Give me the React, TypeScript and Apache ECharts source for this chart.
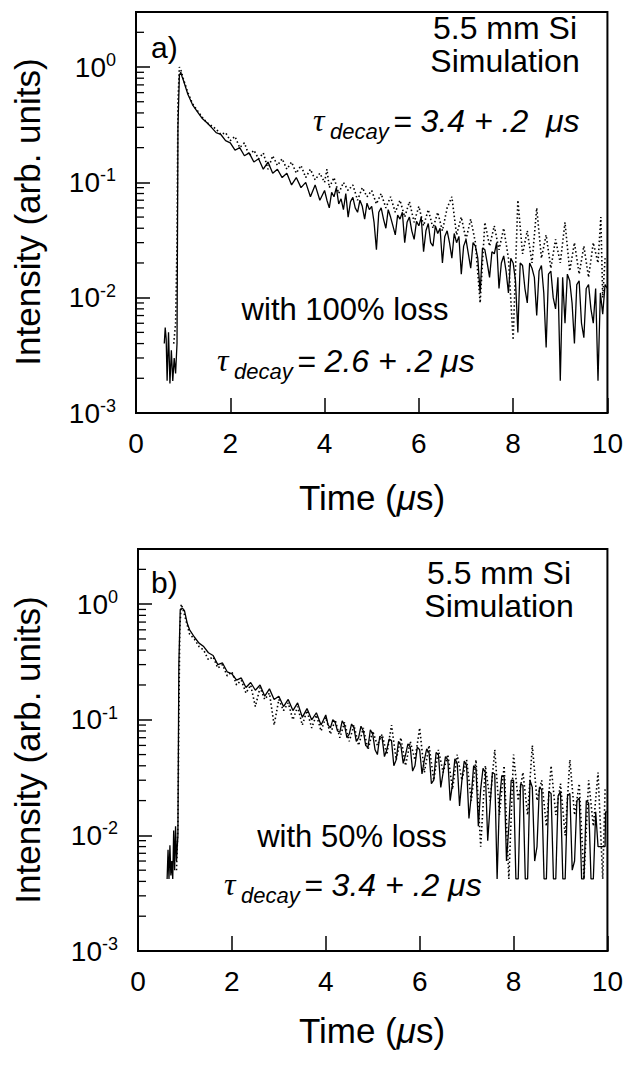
import React, { useEffect, useRef } from 'react';
import * as echarts from 'echarts';

const FONT = '"Liberation Sans", Arial, sans-serif';
const SERIF = '"Liberation Serif", "Times New Roman", serif';

const X_MIN = 0;
const X_MAX = 10;
const X_INTERVAL = 2;
const Y_MIN = 0.001;
const Y_MAX = 3;

// minor tick positions of the log axis
const MINOR_TICKS = [
  0.002, 0.003, 0.004, 0.005, 0.006, 0.007, 0.008, 0.009,
  0.02, 0.03, 0.04, 0.05, 0.06, 0.07, 0.08, 0.09,
  0.2, 0.3, 0.4, 0.5, 0.6, 0.7, 0.8, 0.9,
  2,
];

// Panel a) solid trace (with 100% loss, tau = 2.6 us)
const A_SOLID = [
  [0.60, 0.0040], [0.62, 0.0055], [0.64, 0.0044], [0.66, 0.0019], [0.69, 0.0050], [0.72, 0.0018],
  [0.75, 0.0035], [0.78, 0.0019], [0.81, 0.0030], [0.84, 0.0022], [0.87, 0.0040], [0.89, 0.30],
  [0.92, 0.85], [0.95, 0.90], [0.98, 0.82],
  [1.0, 0.78], [1.1, 0.58], [1.2, 0.47], [1.3, 0.41], [1.4, 0.36], [1.5, 0.33], [1.6, 0.30],
  [1.7, 0.27], [1.8, 0.26], [1.9, 0.23], [2.0, 0.22], [2.1, 0.19], [2.2, 0.20], [2.3, 0.17],
  [2.4, 0.18], [2.5, 0.15], [2.6, 0.16], [2.7, 0.13], [2.8, 0.15], [2.9, 0.12], [3.0, 0.13],
  [3.1, 0.11], [3.2, 0.12], [3.3, 0.095], [3.4, 0.11], [3.5, 0.09], [3.6, 0.10], [3.7, 0.075],
  [3.8, 0.095], [3.9, 0.07],
  [4.00, 0.085], [4.05, 0.07], [4.10, 0.06], [4.15, 0.082], [4.20, 0.075], [4.25, 0.09], [4.30, 0.065],
  [4.35, 0.072], [4.40, 0.058], [4.45, 0.08], [4.50, 0.05], [4.55, 0.068], [4.60, 0.074], [4.65, 0.06],
  [4.70, 0.055], [4.75, 0.07], [4.80, 0.062], [4.85, 0.048], [4.90, 0.066], [4.95, 0.058], [5.00, 0.062],
  [5.05, 0.045], [5.10, 0.026], [5.15, 0.055], [5.20, 0.06], [5.25, 0.048], [5.30, 0.04], [5.35, 0.058],
  [5.40, 0.05], [5.45, 0.042], [5.50, 0.035], [5.55, 0.052], [5.60, 0.048], [5.65, 0.055], [5.70, 0.03],
  [5.75, 0.045], [5.80, 0.05], [5.85, 0.038], [5.90, 0.032], [5.95, 0.046], [6.00, 0.042], [6.05, 0.05],
  [6.10, 0.025], [6.15, 0.038], [6.20, 0.044], [6.25, 0.03], [6.30, 0.028], [6.35, 0.042], [6.40, 0.036],
  [6.45, 0.04], [6.50, 0.02], [6.55, 0.034], [6.60, 0.038], [6.65, 0.03], [6.70, 0.022], [6.75, 0.036],
  [6.80, 0.03], [6.85, 0.034], [6.90, 0.016], [6.95, 0.028], [7.00, 0.032], [7.05, 0.024], [7.10, 0.018],
  [7.15, 0.03], [7.20, 0.028], [7.25, 0.022], [7.30, 0.011], [7.35, 0.027], [7.40, 0.026], [7.45, 0.02],
  [7.50, 0.015], [7.55, 0.025], [7.60, 0.024], [7.65, 0.03], [7.70, 0.012], [7.75, 0.02], [7.80, 0.023],
  [7.85, 0.017], [7.90, 0.011], [7.95, 0.022], [8.00, 0.02], [8.05, 0.014], [8.10, 0.005], [8.15, 0.02],
  [8.20, 0.019], [8.25, 0.012], [8.30, 0.009], [8.35, 0.02], [8.40, 0.018], [8.45, 0.015], [8.50, 0.007],
  [8.55, 0.017], [8.60, 0.019], [8.65, 0.011], [8.70, 0.0037], [8.75, 0.016], [8.80, 0.017], [8.85, 0.01],
  [8.90, 0.008], [8.95, 0.015], [9.00, 0.0019], [9.05, 0.015], [9.10, 0.006], [9.15, 0.016], [9.20, 0.014],
  [9.25, 0.009], [9.30, 0.004], [9.35, 0.013], [9.40, 0.014], [9.45, 0.006], [9.50, 0.0045], [9.55, 0.012],
  [9.60, 0.013], [9.65, 0.008], [9.70, 0.006], [9.75, 0.012], [9.80, 0.0019], [9.85, 0.011], [9.90, 0.0072],
  [9.95, 0.013], [10.00, 0.012],
];

// Panel a) dotted trace (tau = 3.4 us)
const A_DOTTED = [
  [0.80, 0.004], [0.84, 0.006], [0.87, 0.03], [0.89, 0.5], [0.92, 1.0], [0.96, 0.92],
  [1.0, 0.80], [1.1, 0.60], [1.2, 0.48], [1.3, 0.42], [1.4, 0.37], [1.5, 0.33], [1.6, 0.31],
  [1.7, 0.29], [1.8, 0.26], [1.9, 0.27], [2.0, 0.23], [2.1, 0.25], [2.2, 0.20], [2.3, 0.22],
  [2.4, 0.17], [2.5, 0.19], [2.6, 0.16], [2.7, 0.18], [2.8, 0.13], [2.9, 0.17], [3.0, 0.14],
  [3.1, 0.16], [3.2, 0.13], [3.3, 0.15], [3.4, 0.12], [3.5, 0.14], [3.6, 0.11], [3.7, 0.13],
  [3.8, 0.105], [3.9, 0.12], [4.0, 0.10], [4.05, 0.13], [4.1, 0.09], [4.2, 0.11], [4.3, 0.08],
  [4.4, 0.10], [4.5, 0.085], [4.6, 0.095], [4.7, 0.07], [4.8, 0.09], [4.9, 0.075], [5.0, 0.085],
  [5.1, 0.065], [5.2, 0.08], [5.3, 0.06], [5.4, 0.075], [5.5, 0.055], [5.6, 0.07], [5.7, 0.05],
  [5.8, 0.068], [5.9, 0.045], [6.0, 0.062], [6.1, 0.042], [6.2, 0.058], [6.3, 0.04], [6.4, 0.055],
  [6.5, 0.038], [6.6, 0.06], [6.7, 0.075], [6.8, 0.035], [6.9, 0.05], [7.0, 0.032], [7.1, 0.048],
  [7.2, 0.03], [7.3, 0.009], [7.4, 0.045], [7.5, 0.028], [7.6, 0.042], [7.7, 0.026], [7.8, 0.04],
  [7.9, 0.022], [8.0, 0.0043], [8.1, 0.07], [8.2, 0.024], [8.3, 0.038], [8.4, 0.02], [8.5, 0.06],
  [8.6, 0.022], [8.7, 0.035], [8.8, 0.018], [8.9, 0.032], [9.0, 0.02], [9.1, 0.045], [9.2, 0.017],
  [9.3, 0.03], [9.4, 0.016], [9.5, 0.028], [9.6, 0.015], [9.7, 0.03], [9.8, 0.02], [9.86, 0.05],
  [9.9, 0.01], [9.95, 0.022],
];

// Panel b) solid trace (with 50% loss, tau = 3.4 us)
const B_SOLID = [
  [0.62, 0.0042], [0.64, 0.0075], [0.66, 0.0042], [0.68, 0.0082], [0.70, 0.0045], [0.72, 0.0060],
  [0.74, 0.0042], [0.76, 0.0110], [0.78, 0.0050], [0.80, 0.0120], [0.82, 0.0060], [0.85, 0.0100],
  [0.87, 0.30], [0.90, 0.90], [0.95, 0.92], [0.99, 0.88],
  [1.05, 0.68], [1.1, 0.60], [1.2, 0.52], [1.3, 0.46], [1.4, 0.43], [1.5, 0.38], [1.6, 0.36],
  [1.7, 0.30], [1.8, 0.31], [1.9, 0.26], [2.0, 0.25], [2.1, 0.22], [2.2, 0.23], [2.3, 0.19],
  [2.4, 0.21], [2.5, 0.18], [2.6, 0.20], [2.7, 0.16], [2.8, 0.185], [2.9, 0.15], [3.0, 0.16],
  [3.1, 0.13], [3.2, 0.15], [3.3, 0.12], [3.4, 0.14], [3.5, 0.105], [3.6, 0.125], [3.7, 0.10],
  [3.8, 0.115], [3.9, 0.09],
  [4.00, 0.11], [4.05, 0.09], [4.10, 0.085], [4.15, 0.1], [4.20, 0.095], [4.25, 0.08], [4.30, 0.078],
  [4.35, 0.098], [4.40, 0.09], [4.45, 0.07], [4.50, 0.075], [4.55, 0.092], [4.60, 0.085], [4.65, 0.065],
  [4.70, 0.07], [4.75, 0.088], [4.80, 0.08], [4.85, 0.06], [4.90, 0.058], [4.95, 0.082], [5.00, 0.075],
  [5.05, 0.055], [5.10, 0.05], [5.15, 0.072], [5.20, 0.07], [5.25, 0.048], [5.30, 0.055], [5.35, 0.068],
  [5.40, 0.066], [5.45, 0.04], [5.50, 0.045], [5.55, 0.065], [5.60, 0.06], [5.65, 0.042], [5.70, 0.05],
  [5.75, 0.062], [5.80, 0.058], [5.85, 0.036], [5.90, 0.04], [5.95, 0.058], [6.00, 0.055], [6.05, 0.034],
  [6.10, 0.045], [6.15, 0.056], [6.20, 0.052], [6.25, 0.028], [6.30, 0.03], [6.35, 0.052], [6.40, 0.05],
  [6.45, 0.026], [6.50, 0.035], [6.55, 0.048], [6.60, 0.045], [6.65, 0.02], [6.70, 0.028], [6.75, 0.046],
  [6.80, 0.042], [6.85, 0.018], [6.90, 0.03], [6.95, 0.044], [7.00, 0.04], [7.05, 0.014], [7.10, 0.022],
  [7.15, 0.04], [7.20, 0.038], [7.25, 0.012], [7.30, 0.025], [7.35, 0.038], [7.40, 0.035], [7.45, 0.009],
  [7.50, 0.018], [7.55, 0.035], [7.60, 0.034], [7.65, 0.0042], [7.70, 0.02], [7.75, 0.033], [7.80, 0.032],
  [7.85, 0.006], [7.90, 0.012], [7.95, 0.03], [8.00, 0.03], [8.05, 0.0042], [8.10, 0.0042], [8.15, 0.028],
  [8.20, 0.027], [8.25, 0.0042], [8.30, 0.0042], [8.35, 0.03], [8.40, 0.026], [8.45, 0.006], [8.50, 0.008],
  [8.55, 0.026], [8.60, 0.025], [8.65, 0.0042], [8.70, 0.0042], [8.75, 0.024], [8.80, 0.023], [8.85, 0.0042],
  [8.90, 0.0042], [8.95, 0.022], [9.00, 0.024], [9.05, 0.0042], [9.10, 0.0042], [9.15, 0.022], [9.20, 0.023],
  [9.25, 0.005], [9.30, 0.006], [9.35, 0.02], [9.40, 0.021], [9.45, 0.0042], [9.50, 0.0042], [9.55, 0.02],
  [9.60, 0.019], [9.65, 0.0042], [9.70, 0.0042], [9.75, 0.016], [9.80, 0.008], [9.95, 0.008], [9.96, 0.016],
  [10.00, 0.016],
];

// Panel b) dotted trace
const B_DOTTED = [
  [0.82, 0.005], [0.85, 0.012], [0.87, 0.1], [0.89, 0.6], [0.92, 1.0], [0.96, 0.9],
  [1.0, 0.78], [1.1, 0.55], [1.2, 0.50], [1.3, 0.43], [1.4, 0.40], [1.5, 0.33], [1.6, 0.35],
  [1.7, 0.28], [1.8, 0.30], [1.9, 0.24], [2.0, 0.26], [2.1, 0.20], [2.2, 0.22], [2.3, 0.17],
  [2.4, 0.20], [2.5, 0.13], [2.6, 0.19], [2.7, 0.15], [2.8, 0.17], [2.9, 0.09], [3.0, 0.15],
  [3.1, 0.12], [3.2, 0.14], [3.3, 0.10], [3.4, 0.13], [3.5, 0.09], [3.6, 0.12], [3.7, 0.085],
  [3.8, 0.11], [3.9, 0.08], [4.0, 0.105], [4.1, 0.075], [4.2, 0.10], [4.3, 0.07], [4.4, 0.095],
  [4.5, 0.065], [4.6, 0.09], [4.7, 0.06], [4.8, 0.085], [4.9, 0.055], [5.0, 0.08], [5.1, 0.06],
  [5.2, 0.075], [5.3, 0.05], [5.4, 0.09], [5.5, 0.045], [5.6, 0.07], [5.7, 0.04], [5.8, 0.065],
  [5.9, 0.045], [6.0, 0.085], [6.1, 0.035], [6.2, 0.06], [6.3, 0.03], [6.4, 0.055], [6.5, 0.035],
  [6.6, 0.05], [6.7, 0.025], [6.8, 0.05], [6.9, 0.03], [7.0, 0.045], [7.1, 0.02], [7.2, 0.045],
  [7.3, 0.008], [7.4, 0.04], [7.5, 0.02], [7.6, 0.055], [7.7, 0.015], [7.8, 0.04], [7.9, 0.0042],
  [8.0, 0.05], [8.1, 0.02], [8.2, 0.035], [8.3, 0.015], [8.4, 0.06], [8.5, 0.02], [8.6, 0.03],
  [8.7, 0.012], [8.8, 0.04], [8.9, 0.015], [9.0, 0.028], [9.1, 0.01], [9.2, 0.045], [9.3, 0.015],
  [9.4, 0.028], [9.5, 0.0042], [9.6, 0.03], [9.7, 0.012], [9.8, 0.035], [9.9, 0.0042], [9.95, 0.025],
];

const Y_TITLE = 'Intensity (arb. units)';
const PANEL_LABELS = ['a)', 'b)'];

function yLabel(v: number) {
  const l = Math.log10(v);
  const e = Math.round(l);
  if (Math.abs(l - e) > 1e-6) return '';
  return `{b|10}{s|${e}}`;
}

const yLabelRich = {
  b: { fontSize: 28, fontFamily: FONT, color: '#000', lineHeight: 32 },
  s: { fontSize: 18, fontFamily: FONT, color: '#000', lineHeight: 18, verticalAlign: 'top' },
};

function makeXAxis(gridIndex: number) {
  return {
    type: 'value', gridIndex, min: X_MIN, max: X_MAX, interval: X_INTERVAL,
    axisLine: { show: true, onZero: false, lineStyle: { color: '#000', width: 2 } },
    axisTick: { show: true, inside: true, length: 15, lineStyle: { color: '#000', width: 1.5 } },
    splitLine: { show: false },
    axisLabel: { fontSize: 28, fontFamily: FONT, color: '#000', margin: 16 },
  };
}

function makeYAxis(gridIndex: number) {
  return {
    type: 'log', logBase: 10, gridIndex, min: Y_MIN, max: Y_MAX,
    axisLine: { show: true, lineStyle: { color: '#000', width: 2 } },
    axisTick: { show: true, inside: true, length: 14, lineStyle: { color: '#000', width: 1.5 } },
    splitLine: { show: false },
    axisLabel: { formatter: yLabel, rich: yLabelRich, margin: 20 },
  };
}

function minorTickSeries(idx: number) {
  return {
    type: 'custom', xAxisIndex: idx, yAxisIndex: idx, silent: true, clip: false,
    data: MINOR_TICKS.map((v) => [X_MIN, v]),
    renderItem: (params: any, api: any) => {
      const p = api.coord([api.value(0), api.value(1)]);
      return {
        type: 'line',
        shape: { x1: p[0], y1: p[1], x2: p[0] + 8, y2: p[1] },
        style: { stroke: '#000', lineWidth: 1.3 },
      };
    },
  };
}

function lineSeries(data: number[][], idx: number, dotted: boolean) {
  return {
    type: 'line', xAxisIndex: idx, yAxisIndex: idx, data, showSymbol: false, symbol: 'none',
    lineStyle: { color: '#000', width: dotted ? 1.6 : 1.3, type: dotted ? [1.5, 2.5] : 'solid' },
    silent: true,
  };
}

function txt(text: string, x: number, y: number, size: number, align = 'center', extra: any = {}) {
  return {
    type: 'text', x, y, silent: true,
    style: { text, fontSize: size, fontFamily: FONT, fill: '#000', align, verticalAlign: 'middle', ...extra },
  };
}

function tauDecay(x: number, y: number, value: string) {
  return [
    txt('\u03C4', x, y, 32, 'left', { fontFamily: SERIF, fontStyle: 'italic' }),
    txt('decay', x + 17, y + 11, 22, 'left', { fontStyle: 'italic' }),
    txt(`= ${value}`, x + 80, y + 1, 32, 'left', { fontStyle: 'italic' }),
  ];
}

function xTitle(x: number, y: number) {
  return {
    type: 'text', x, y, silent: true,
    style: {
      text: '{n|Time (}{i|\u03BC}{n|s)}', align: 'center', verticalAlign: 'middle', fill: '#000',
      rich: {
        n: { fontSize: 35, fontFamily: FONT, color: '#000' },
        i: { fontSize: 35, fontFamily: FONT, fontStyle: 'italic', color: '#000' },
      },
    },
  };
}

export default function App() {
  const ref = useRef<HTMLDivElement>(null);
  useEffect(() => {
    document.body.style.margin = '0';
    const chart = echarts.init(ref.current!, null, { renderer: 'svg' });
    chart.setOption({
      animation: false,
      backgroundColor: '#fff',
      grid: [
        { left: 136, top: 12, width: 472, height: 401, show: true, borderColor: '#000', borderWidth: 2 },
        { left: 138, top: 549, width: 472, height: 402, show: true, borderColor: '#000', borderWidth: 2 },
      ],
      xAxis: [makeXAxis(0), makeXAxis(1)],
      yAxis: [makeYAxis(0), makeYAxis(1)],
      series: [
        lineSeries(A_DOTTED, 0, true),
        lineSeries(A_SOLID, 0, false),
        lineSeries(B_DOTTED, 1, true),
        lineSeries(B_SOLID, 1, false),
        minorTickSeries(0),
        minorTickSeries(1),
      ],
      graphic: [
        txt(PANEL_LABELS[0], 151, 47, 30, 'left'),
        txt('5.5 mm Si', 505, 28, 32),
        txt('Simulation', 505, 61, 32),
        ...tauDecay(313, 120, '3.4 + .2  \u03BCs'),
        txt('with 100% loss', 345, 309, 31),
        ...tauDecay(217, 360, '2.6 + .2 \u03BCs'),
        txt(PANEL_LABELS[1], 151, 582, 30, 'left'),
        txt('5.5 mm Si', 499, 573, 32),
        txt('Simulation', 499, 606, 32),
        txt('with 50% loss', 352, 836, 31),
        ...tauDecay(224, 884, '3.4 + .2 \u03BCs'),
        {
          type: 'text', x: 27, y: 212, rotation: Math.PI / 2, silent: true,
          style: { text: Y_TITLE, fontSize: 35, fontFamily: FONT, fill: '#000', align: 'center', verticalAlign: 'middle' },
        },
        {
          type: 'text', x: 27, y: 750, rotation: Math.PI / 2, silent: true,
          style: { text: Y_TITLE, fontSize: 35, fontFamily: FONT, fill: '#000', align: 'center', verticalAlign: 'middle' },
        },
        xTitle(372, 497),
        xTitle(372, 1030),
      ],
    });
    return () => chart.dispose();
  }, []);
  return <div ref={ref} style={{ width: 626, height: 1068 }} />;
}
